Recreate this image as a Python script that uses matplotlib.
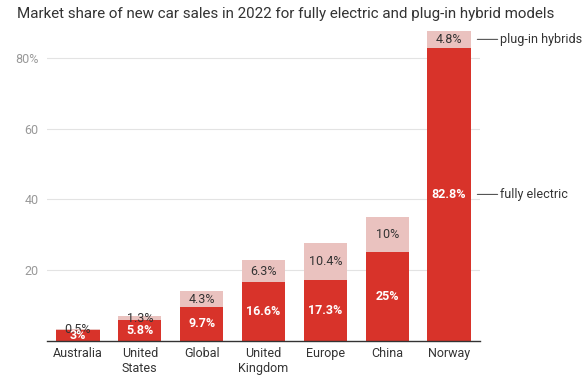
import matplotlib
matplotlib.use("Agg")
import matplotlib.pyplot as plt

plt.rcParams['font.family'] = ['Roboto', 'DejaVu Sans']

categories = ["Australia", "United\nStates", "Global", "United\nKingdom", "Europe", "China", "Norway"]
fully_electric = [3, 5.8, 9.7, 16.6, 17.3, 25, 82.8]
plugin_hybrids = [0.5, 1.3, 4.3, 6.3, 10.4, 10, 4.8]
fe_labels = ["3%", "5.8%", "9.7%", "16.6%", "17.3%", "25%", "82.8%"]
ph_labels = ["0.5%", "1.3%", "4.3%", "6.3%", "10.4%", "10%", "4.8%"]
yticks = [20, 40, 60, 80]
ytick_labels = ["20", "40", "60", "80%"]

RED = "#d8332a"
PINK = "#eac2bf"

fig = plt.figure(figsize=(5.88, 3.87), dpi=100)
ax = fig.add_axes([0.0799, 0.1189, 0.7364, 0.8049])

x = list(range(len(categories)))
w = 0.7
ax.bar(x, fully_electric, width=w, color=RED, zorder=2)
ax.bar(x, plugin_hybrids, width=w, bottom=fully_electric, color=PINK, zorder=2)

for i in x:
    ax.text(i, fully_electric[i] / 2, fe_labels[i], ha='center', va='center',
            color='white', fontsize=9, fontweight='bold', zorder=4)
    ax.text(i, fully_electric[i] + plugin_hybrids[i] / 2, ph_labels[i], ha='center', va='center',
            color='#333333', fontsize=9, zorder=3)

ax.set_xlim(-0.5, 6.5)
ax.set_ylim(0, 88)
ax.set_yticks(yticks)
ax.set_yticklabels(ytick_labels)
ax.set_xticks(x)
ax.set_xticklabels(categories)
ax.tick_params(axis='y', length=0, colors='#999999', labelsize=9, pad=6)
ax.tick_params(axis='x', length=0, colors='#333333', labelsize=9, pad=4)
ax.grid(axis='y', color='#e3e3e3', linewidth=0.8, zorder=0)
for s in ['top', 'right', 'left']:
    ax.spines[s].set_visible(False)
ax.spines['bottom'].set_color('#333333')
ax.spines['bottom'].set_linewidth(1.0)
ax.spines['bottom'].set_zorder(5)

# series annotations next to last bar
last = len(categories) - 1
for yv, name in [(fully_electric[last] / 2, "fully electric"),
                 (fully_electric[last] + plugin_hybrids[last] / 2, "plug-in hybrids")]:
    ax.annotate(name, xy=(last + w / 2 + 0.04, yv), xycoords='data',
                xytext=(last + w / 2 + 0.48, yv), textcoords='data',
                ha='left', va='center', fontsize=9, color='#333333',
                arrowprops=dict(arrowstyle='-', color='#555555', lw=0.8,
                                shrinkA=0, shrinkB=3),
                annotation_clip=False)

fig.text(17 / 588, 1 - 14 / 387, "Market share of new car sales in 2022 for fully electric and plug-in hybrid models",
         ha='left', va='center', fontsize=10.9, color='#333333')

fig.savefig("out.png", dpi=100)
